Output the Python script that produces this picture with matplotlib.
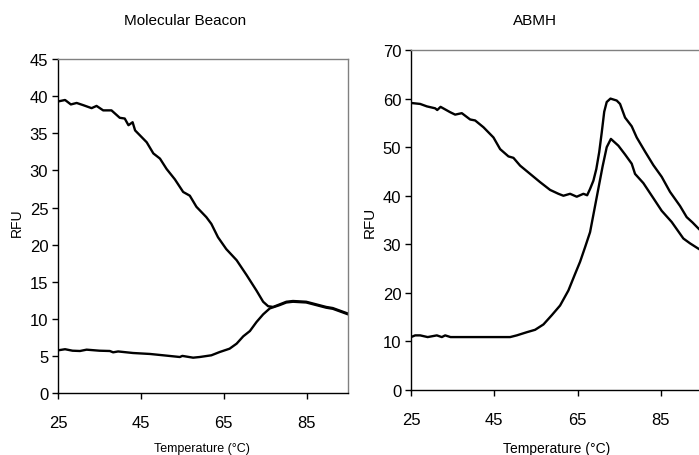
import matplotlib.pyplot as plt

plt.rcParams['font.family'] = ['Liberation Sans', 'DejaVu Sans']

# Molecular Beacon - kurva turun (tinggi di awal)
mb_temp_a = [25.0, 26.7, 28.1, 29.5, 31.1, 33.1, 34.3, 35.9, 37.9, 39.9, 41.1, 42.0,
             43.0, 43.6, 46.4, 48.0, 49.6, 51.2, 53.2, 55.2, 56.8, 58.4, 60.8, 62.0,
             63.6, 65.6, 68.1, 70.5, 72.9, 74.5, 75.7, 76.9, 78.5, 80.1, 81.7, 84.9,
             87.3, 89.7, 91.3, 95.0]
mb_rfu_a = [39.3, 39.5, 38.9, 39.1, 38.8, 38.4, 38.7, 38.1, 38.1, 37.1, 37.0, 36.1,
            36.5, 35.4, 33.8, 32.3, 31.6, 30.2, 28.8, 27.1, 26.6, 25.1, 23.7, 22.8,
            21.0, 19.4, 17.9, 15.9, 13.8, 12.3, 11.7, 11.6, 11.95, 12.3, 12.4, 12.3,
            11.95, 11.6, 11.45, 10.7]

# Molecular Beacon - kurva naik (rendah di awal)
mb_temp_b = [25.0, 26.7, 28.5, 30.3, 31.9, 35.0, 37.5, 38.3, 39.5, 43.1, 47.2, 50.4,
             54.4, 55.0, 57.6, 59.2, 62.0, 64.0, 66.4, 68.1, 69.7, 71.3, 72.9, 74.5,
             76.1, 77.7, 78.5, 80.1, 81.7, 84.9, 87.3, 89.7, 91.3, 95.0]
mb_rfu_b = [5.75, 5.9, 5.7, 5.66, 5.84, 5.7, 5.66, 5.48, 5.6, 5.39, 5.26, 5.08,
            4.85, 5.0, 4.76, 4.85, 5.08, 5.52, 5.97, 6.65, 7.64, 8.35, 9.57, 10.6,
            11.4, 11.7, 11.85, 12.2, 12.3, 12.2, 11.85, 11.5, 11.35, 10.6]

# ABMH - kurva atas
ab_temp_a = [25.0, 27.2, 28.8, 30.8, 31.3, 32.1, 34.4, 35.6, 37.2, 39.2, 40.4, 42.4,
             44.8, 46.4, 48.4, 49.6, 51.2, 53.6, 56.0, 58.4, 60.4, 61.6, 63.2, 64.8,
             66.4, 67.3, 68.0, 68.8, 69.5, 70.2, 70.8, 71.4, 72.0, 72.9, 74.4, 75.2,
             76.4, 78.0, 79.2, 81.2, 83.2, 85.2, 87.2, 89.6, 91.2, 92.6, 94.2, 95.0]
ab_rfu_a = [59.1, 58.9, 58.4, 58.0, 57.65, 58.3, 57.2, 56.7, 57.0, 55.7, 55.5, 54.1,
            52.0, 49.6, 48.1, 47.8, 46.2, 44.5, 42.8, 41.2, 40.4, 40.0, 40.4, 39.8,
            40.4, 40.1, 41.4, 43.1, 45.5, 49.0, 53.0, 57.3, 59.3, 60.0, 59.6, 58.9,
            56.1, 54.3, 52.0, 49.1, 46.3, 43.9, 40.8, 37.9, 35.6, 34.5, 33.1, 32.6]

# ABMH - kurva bawah
ab_temp_b = [25.0, 26.0, 27.2, 29.0, 31.2, 32.4, 33.2, 34.5, 40.0, 48.8, 50.4, 52.8,
             54.8, 56.8, 58.8, 60.8, 62.8, 64.4, 65.6, 66.8, 68.0, 69.0, 70.0, 71.0,
             72.0, 73.0, 74.8, 76.4, 78.0, 78.8, 80.8, 83.2, 85.2, 87.6, 90.4,
             92.0, 94.2, 95.0]
ab_rfu_b = [10.9, 11.25, 11.25, 10.9, 11.25, 10.9, 11.25, 10.9, 10.9, 10.9, 11.25, 11.9,
            12.4, 13.5, 15.4, 17.4, 20.5, 23.9, 26.4, 29.4, 32.5, 37.0, 41.5, 46.0,
            50.0, 51.7, 50.3, 48.5, 46.6, 44.5, 42.6, 39.5, 36.9, 34.6, 31.2,
            30.2, 29.0, 28.7]

fig = plt.figure(figsize=(6.99, 4.56), dpi=100)

# panel kiri
ax1 = fig.add_axes([0.083, 0.136, 0.415, 0.732])
ax1.plot(mb_temp_a, mb_rfu_a, color='black', lw=1.7)
ax1.plot(mb_temp_b, mb_rfu_b, color='black', lw=1.7)
ax1.set_xlim(25, 95)
ax1.set_ylim(0, 45)
ax1.set_xticks([25, 45, 65, 85])
ax1.set_yticks(range(0, 50, 5))

# panel kanan (terpotong di sisi kanan)
ax2 = fig.add_axes([0.588, 0.1425, 0.417, 0.7456])
ax2.plot(ab_temp_a, ab_rfu_a, color='black', lw=1.7)
ax2.plot(ab_temp_b, ab_rfu_b, color='black', lw=1.7)
ax2.set_xlim(25, 95)
ax2.set_ylim(0, 70)
ax2.set_xticks([25, 45, 65, 85])
ax2.set_yticks(range(0, 80, 10))

for ax in (ax1, ax2):
    ax.spines['left'].set_color('black')
    ax.spines['bottom'].set_color('black')
    ax.spines['top'].set_color('#808080')
    ax.spines['right'].set_color('#808080')
    for s in ax.spines.values():
        s.set_linewidth(1.0)
    ax.tick_params(direction='out', length=4, width=1, labelsize=12, pad=3)
    ax.xaxis.set_tick_params(pad=12)

# judul & label
fig.text(185/699, 1 - 21/456, 'Molecular Beacon', fontsize=11, ha='center', va='center')
fig.text(535/699, 1 - 21/456, 'ABMH', fontsize=11, ha='center', va='center')
fig.text(202/699, 1 - 449/456, 'Temperature (°C)', fontsize=9, ha='center', va='center')
fig.text(557/699, 1 - 449/456, 'Temperature (°C)', fontsize=10, ha='center', va='center')
fig.text(17/699, 1 - 223/456, 'RFU', fontsize=10, rotation=90, ha='center', va='center')
fig.text(370/699, 1 - 222/456, 'RFU', fontsize=11, rotation=90, ha='center', va='center')

plt.savefig('out.png', dpi=100)
